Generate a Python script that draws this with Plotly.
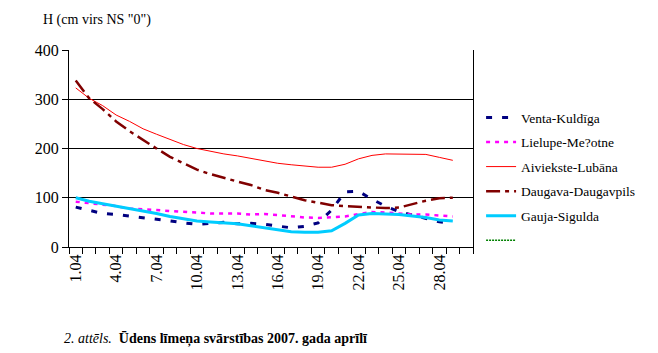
import plotly.graph_objects as go

days = list(range(1, 30))
tick_days = [1, 4, 7, 10, 13, 16, 19, 22, 25, 28]
tick_labels = [f"{d}.04" for d in tick_days]

venta = [81, 75, 68, 66, 63, 60, 57, 53, 49, 46, 48, 50, 47, 48, 46, 42, 39, 42, 49,
         75, 112, 113, 97, 83, 72, 65, 58, 51, 48]
lielupe = [92, 89, 87, 83, 78, 77, 75, 73, 72, 70, 68, 68, 68, 66, 67, 65, 62, 60, 59,
           60, 62, 67, 71, 70, 68, 66, 66, 64, 62]
aiviekste = [323, 302, 287, 268, 255, 240, 229, 219, 208, 200, 194, 189, 185, 180, 175,
             170, 167, 164, 162, 162, 168, 179, 186, 189, 189, 189, 188, 182, 176]
daugava = [338, 302, 280, 255, 235, 217, 200, 183, 170, 157, 148, 140, 133, 126, 116,
           110, 103, 95, 90, 85, 83, 82, 80, 79, 80, 87, 94, 99, 100]
gauja = [100, 93, 88, 83, 79, 74, 68, 62, 57, 53, 51, 49, 47, 43, 39, 34, 31, 30, 30,
         33, 48, 65, 68, 67, 66, 63, 60, 55, 53]

FONT = "Liberation Serif, Times New Roman, serif"

fig = go.Figure()
series = [
    ("Venta-Kuldīga", venta, dict(color="#000080", width=3, dash="6px,10px")),
    ("Lielupe-Me?otne", lielupe, dict(color="#FF00FF", width=2.5, dash="4px,5px")),
    ("Aiviekste-Lubāna", aiviekste, dict(color="#FF0000", width=1)),
    ("Daugava-Daugavpils", daugava, dict(color="#800000", width=2.5, dash="14px,5px,4px,5px")),
    ("Gauja-Sigulda", gauja, dict(color="#00CCFF", width=3)),
]
for i, (name, vals, line) in enumerate(series):
    fig.add_trace(go.Scatter(x=days, y=vals, mode="lines", name=name, line=line,
                             legendgroup=f"g{i}"))
fig.add_trace(go.Scatter(x=[None], y=[None], mode="lines", name=" ",
                         line=dict(color="#008000", width=1.5, dash="2px,1px"),
                         legendgroup="g5", showlegend=True))

fig.update_layout(
    width=658, height=353,
    margin=dict(l=69, r=185, t=50, b=106),
    paper_bgcolor="white", plot_bgcolor="white",
    font=dict(family=FONT, color="black", size=16),
    showlegend=True,
    legend=dict(x=1.02, xanchor="left", y=0.735, yanchor="top",
                font=dict(family=FONT, size=13.5, color="black"),
                tracegroupgap=4, bgcolor="rgba(0,0,0,0)"),
    xaxis=dict(range=[0.5, 30.5], tickmode="array", tickvals=tick_days, ticktext=tick_labels,
               tickangle=-90, ticks="", showgrid=False, zeroline=False,
               showline=True, linecolor="black", linewidth=1,
               tickfont=dict(family=FONT, size=16),
               minor=dict(tickmode="array", tickvals=[d + 0.5 for d in range(0, 31)],
                          ticks="outside", ticklen=6, tickcolor="black", showgrid=False)),
    yaxis=dict(range=[0, 400], tickvals=[0, 100, 200, 300, 400], ticks="outside", ticklen=6,
               tickcolor="black", showgrid=True, gridcolor="black", gridwidth=1,
               zeroline=False, showline=True, mirror=True, linecolor="black", linewidth=1,
               tickfont=dict(family=FONT, size=16)),
    annotations=[
        dict(text='H (cm virs NS "0")', xref="paper", yref="paper",
             x=-0.069, y=1.152, xanchor="left", yanchor="middle", showarrow=False,
             font=dict(family=FONT, size=14)),
        dict(text="<i>2. attēls.</i>  <b>Ūdens līmeņa svārstības 2007. gada aprīlī</b>",
             xref="paper", yref="paper", x=-0.017, y=-0.467, xanchor="left",
             yanchor="middle", showarrow=False, font=dict(family=FONT, size=14)),
    ],
)

fig.write_html("out.html")
